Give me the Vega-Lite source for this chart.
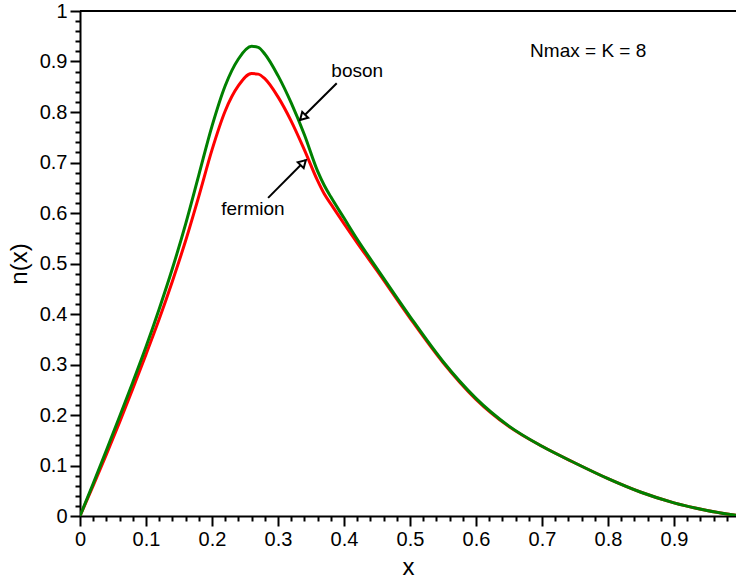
{
  "$schema": "https://vega.github.io/schema/vega-lite/v6.json",
  "width": 656,
  "height": 505,
  "autosize": {"type": "none"},
  "padding": {"left": 80, "top": 11, "right": 0, "bottom": 66},
  "background": "white",
  "config": {
    "view": {"stroke": null},
    "font": "Liberation Sans",
    "axis": {
      "titleFontSize": 24, "titleFontWeight": "normal", "titleColor": "black",
      "labelFontSize": 20, "labelColor": "black", "labelPadding": 3, "labelFlush": false,
      "domainColor": "black", "domainWidth": 2,
      "tickColor": "black", "tickWidth": 2, "grid": false
    }
  },
  "datasets": {
    "curves": [
      {"x": 0, "n": 0, "type": "fermion"},
      {"x": 0.02, "n": 0.06, "type": "fermion"},
      {"x": 0.04, "n": 0.122, "type": "fermion"},
      {"x": 0.06, "n": 0.186, "type": "fermion"},
      {"x": 0.08, "n": 0.252, "type": "fermion"},
      {"x": 0.1, "n": 0.32, "type": "fermion"},
      {"x": 0.12, "n": 0.39, "type": "fermion"},
      {"x": 0.14, "n": 0.465, "type": "fermion"},
      {"x": 0.16, "n": 0.545, "type": "fermion"},
      {"x": 0.18, "n": 0.633, "type": "fermion"},
      {"x": 0.2, "n": 0.725, "type": "fermion"},
      {"x": 0.22, "n": 0.802, "type": "fermion"},
      {"x": 0.24, "n": 0.852, "type": "fermion"},
      {"x": 0.26, "n": 0.876, "type": "fermion"},
      {"x": 0.27, "n": 0.875, "type": "fermion"},
      {"x": 0.28, "n": 0.866, "type": "fermion"},
      {"x": 0.3, "n": 0.83, "type": "fermion"},
      {"x": 0.32, "n": 0.782, "type": "fermion"},
      {"x": 0.34, "n": 0.725, "type": "fermion"},
      {"x": 0.36, "n": 0.664, "type": "fermion"},
      {"x": 0.37, "n": 0.638, "type": "fermion"},
      {"x": 0.38, "n": 0.618, "type": "fermion"},
      {"x": 0.4, "n": 0.579, "type": "fermion"},
      {"x": 0.42, "n": 0.541, "type": "fermion"},
      {"x": 0.45, "n": 0.486, "type": "fermion"},
      {"x": 0.5, "n": 0.392, "type": "fermion"},
      {"x": 0.55, "n": 0.304, "type": "fermion"},
      {"x": 0.6, "n": 0.231, "type": "fermion"},
      {"x": 0.65, "n": 0.177, "type": "fermion"},
      {"x": 0.7, "n": 0.138, "type": "fermion"},
      {"x": 0.75, "n": 0.105, "type": "fermion"},
      {"x": 0.8, "n": 0.074, "type": "fermion"},
      {"x": 0.85, "n": 0.047, "type": "fermion"},
      {"x": 0.9, "n": 0.026, "type": "fermion"},
      {"x": 0.95, "n": 0.011, "type": "fermion"},
      {"x": 1.0, "n": 0, "type": "fermion"},
      {"x": 0, "n": 0, "type": "boson"},
      {"x": 0.02, "n": 0.064, "type": "boson"},
      {"x": 0.04, "n": 0.13, "type": "boson"},
      {"x": 0.06, "n": 0.197, "type": "boson"},
      {"x": 0.08, "n": 0.265, "type": "boson"},
      {"x": 0.1, "n": 0.335, "type": "boson"},
      {"x": 0.12, "n": 0.41, "type": "boson"},
      {"x": 0.14, "n": 0.49, "type": "boson"},
      {"x": 0.16, "n": 0.578, "type": "boson"},
      {"x": 0.18, "n": 0.675, "type": "boson"},
      {"x": 0.2, "n": 0.772, "type": "boson"},
      {"x": 0.22, "n": 0.852, "type": "boson"},
      {"x": 0.24, "n": 0.905, "type": "boson"},
      {"x": 0.26, "n": 0.93, "type": "boson"},
      {"x": 0.27, "n": 0.928, "type": "boson"},
      {"x": 0.28, "n": 0.915, "type": "boson"},
      {"x": 0.3, "n": 0.872, "type": "boson"},
      {"x": 0.32, "n": 0.818, "type": "boson"},
      {"x": 0.34, "n": 0.755, "type": "boson"},
      {"x": 0.36, "n": 0.683, "type": "boson"},
      {"x": 0.37, "n": 0.655, "type": "boson"},
      {"x": 0.38, "n": 0.632, "type": "boson"},
      {"x": 0.4, "n": 0.59, "type": "boson"},
      {"x": 0.42, "n": 0.548, "type": "boson"},
      {"x": 0.45, "n": 0.49, "type": "boson"},
      {"x": 0.5, "n": 0.395, "type": "boson"},
      {"x": 0.55, "n": 0.306, "type": "boson"},
      {"x": 0.6, "n": 0.233, "type": "boson"},
      {"x": 0.65, "n": 0.178, "type": "boson"},
      {"x": 0.7, "n": 0.138, "type": "boson"},
      {"x": 0.75, "n": 0.105, "type": "boson"},
      {"x": 0.8, "n": 0.074, "type": "boson"},
      {"x": 0.85, "n": 0.047, "type": "boson"},
      {"x": 0.9, "n": 0.026, "type": "boson"},
      {"x": 0.95, "n": 0.011, "type": "boson"},
      {"x": 1.0, "n": 0, "type": "boson"}
    ],
    "notes": [
      {"x": 0.42, "y": 0.881, "text": "boson"},
      {"x": 0.262, "y": 0.608, "text": "fermion"},
      {"x": 0.77, "y": 0.921, "text": "Nmax = K = 8"}
    ],
    "arrows": [
      {"x": 0.389, "y": 0.857, "x2": 0.333, "y2": 0.784, "name": "boson"},
      {"x": 0.285, "y": 0.63, "x2": 0.342, "y2": 0.705, "name": "fermion"}
    ],
    "heads": [
      {"x": 0.3386, "y": 0.791, "name": "boson"},
      {"x": 0.337, "y": 0.698, "name": "fermion"}
    ],
    "frame": [{"top": 1}]
  },
  "resolve": {"axis": {"x": "independent", "y": "independent"}},
  "layer": [
    {
      "data": {"name": "curves"},
      "transform": [{"filter": "datum.type === 'fermion'"}],
      "mark": {"type": "line", "color": "#ff0000", "strokeWidth": 3, "interpolate": "monotone", "clip": true},
      "encoding": {
        "x": {
          "field": "x", "type": "quantitative",
          "scale": {"domain": [0, 0.99394], "nice": false, "zero": false},
          "axis": {
            "orient": "bottom",
            "title": "x", "titlePadding": 6,
            "values": [0, 0.1, 0.2, 0.3, 0.4, 0.5, 0.6, 0.7, 0.8, 0.9, 1],
            "format": "~g", "labelOverlap": false,
            "tickSize": 10
          }
        },
        "y": {
          "field": "n", "type": "quantitative",
          "scale": {"domain": [0, 1], "nice": false},
          "axis": {
            "orient": "left",
            "title": "n(x)", "titlePadding": 8,
            "values": [0, 0.1, 0.2, 0.3, 0.4, 0.5, 0.6, 0.7, 0.8, 0.9, 1],
            "format": "~g", "labelOverlap": false,
            "tickSize": 10
          }
        }
      }
    },
    {
      "data": {"name": "curves"},
      "transform": [{"filter": "datum.type === 'boson'"}],
      "mark": {"type": "line", "color": "#008000", "strokeWidth": 3, "interpolate": "monotone", "clip": true},
      "encoding": {
        "x": {
          "field": "x", "type": "quantitative",
          "axis": {
            "orient": "bottom", "title": null, "labels": false, "domain": false, "tickSize": 5,
            "values": [0.02,0.04,0.06,0.08,0.12,0.14,0.16,0.18,0.22,0.24,0.26,0.28,0.32,0.34,0.36,0.38,0.42,0.44,0.46,0.48,0.52,0.54,0.56,0.58,0.62,0.64,0.66,0.68,0.72,0.74,0.76,0.78,0.82,0.84,0.86,0.88,0.92,0.94,0.96,0.98]
          }
        },
        "y": {
          "field": "n", "type": "quantitative",
          "axis": {
            "orient": "left", "title": null, "labels": false, "domain": false, "tickSize": 5,
            "values": [0.02,0.04,0.06,0.08,0.12,0.14,0.16,0.18,0.22,0.24,0.26,0.28,0.32,0.34,0.36,0.38,0.42,0.44,0.46,0.48,0.52,0.54,0.56,0.58,0.62,0.64,0.66,0.68,0.72,0.74,0.76,0.78,0.82,0.84,0.86,0.88,0.92,0.94,0.96,0.98]
          }
        }
      }
    },
    {
      "data": {"name": "frame"},
      "mark": {"type": "rule", "color": "black", "strokeWidth": 2},
      "encoding": {"y": {"field": "top", "type": "quantitative", "axis": null}}
    },
    {
      "data": {"name": "arrows"},
      "mark": {"type": "rule", "color": "black", "strokeWidth": 2},
      "encoding": {
        "x": {"field": "x", "type": "quantitative", "axis": null},
        "y": {"field": "y", "type": "quantitative", "axis": null},
        "x2": {"field": "x2"},
        "y2": {"field": "y2"}
      }
    },
    {
      "data": {"name": "heads"},
      "transform": [{"filter": "datum.name === 'boson'"}],
      "mark": {"type": "point", "shape": "triangle", "filled": true, "fill": "white", "stroke": "black", "strokeWidth": 2, "size": 70, "angle": 225, "opacity": 1},
      "encoding": {
        "x": {"field": "x", "type": "quantitative", "axis": null},
        "y": {"field": "y", "type": "quantitative", "axis": null}
      }
    },
    {
      "data": {"name": "heads"},
      "transform": [{"filter": "datum.name === 'fermion'"}],
      "mark": {"type": "point", "shape": "triangle", "filled": true, "fill": "white", "stroke": "black", "strokeWidth": 2, "size": 70, "angle": 45, "opacity": 1},
      "encoding": {
        "x": {"field": "x", "type": "quantitative", "axis": null},
        "y": {"field": "y", "type": "quantitative", "axis": null}
      }
    },
    {
      "data": {"name": "notes"},
      "mark": {"type": "text", "fontSize": 19, "color": "black", "align": "center", "baseline": "middle"},
      "encoding": {
        "x": {"field": "x", "type": "quantitative", "axis": null},
        "y": {"field": "y", "type": "quantitative", "axis": null},
        "text": {"field": "text"}
      }
    }
  ]
}
